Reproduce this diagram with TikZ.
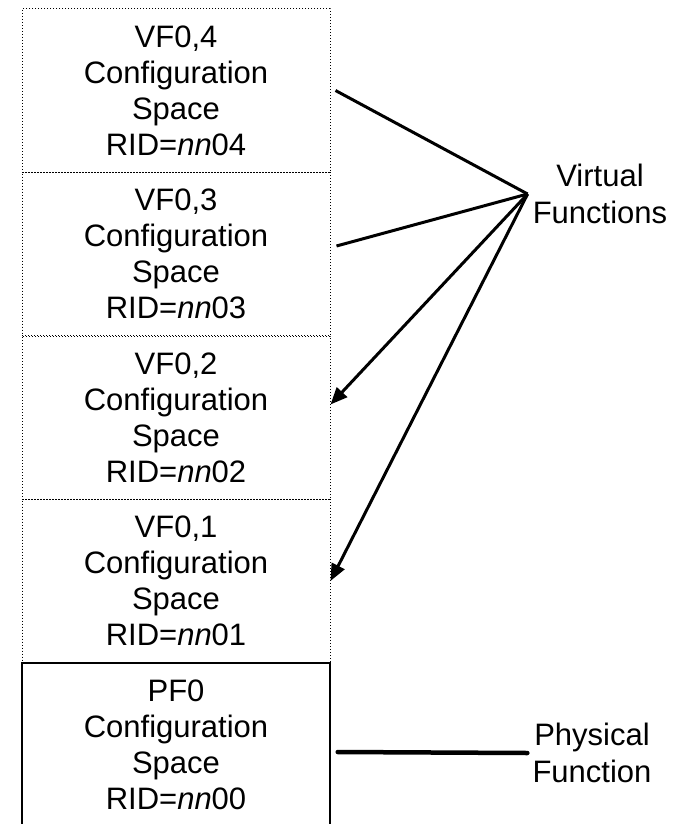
\documentclass[tikz,border=0pt]{standalone}
\usepackage{fontspec}
\setmainfont{Liberation Sans}
\usetikzlibrary{arrows.meta}
\begin{document}
\begin{tikzpicture}[x=1pt,y=-1pt]
    \tikzset{cspace/.style = {minimum width = 308pt, minimum height = 163pt, inner sep = 0pt, align = center, font = \fontsize{31}{36}\selectfont}, vspace/.style = {cspace, draw = black, dotted, line width = 1pt}, pspace/.style = {cspace, draw = black, line width = 1.4pt}, fname/.style = {align = center, inner sep = 5pt, font = \fontsize{31}{37}\selectfont}, edge/.style = {line width = 3pt}, link/.style = {edge, -{Triangle[length=17pt,width=14pt]}}}
    \useasboundingbox (0,0) rectangle (677,824);
    \def\x{176}
    \def\y{90.5}
     \node[vspace] (vf4) at (\x,\y) {VF0,4\\Configuration\\Space\\RID=\textit{nn}04};
     \node[vspace] (vf3) at (\x,\y+163.5) {VF0,3\\Configuration\\Space\\RID=\textit{nn}03};
     \node[vspace] (vf2) at (\x,\y+327) {VF0,2\\Configuration\\Space\\RID=\textit{nn}02};
     \node[vspace] (vf1) at (\x,\y+490.5) {VF0,1\\Configuration\\Space\\RID=\textit{nn}01};
     \node[pspace] (pf0) at (\x,\y+654) {PF0\\Configuration\\Space\\RID=\textit{nn}00};

     \node[fname] (virt) at (600,194) {Virtual\\Functions};
     \node[fname] (phys) at (592,753) {Physical\\Function};

    \draw[edge](virt.west) --([xshift=5pt]vf4.east);
    \draw[edge](virt.west) --([xshift=6pt,yshift=8pt]vf3.east);
    \draw[link](virt.west) --([yshift=13pt]vf2.east);
    \draw[link](virt.west) --(vf1.east);
    \draw[edge,line width=4.5pt,line cap=round]([xshift=7pt,yshift=-7.5pt]pf0.east) --(phys.west);
\end{tikzpicture}
\end{document}
